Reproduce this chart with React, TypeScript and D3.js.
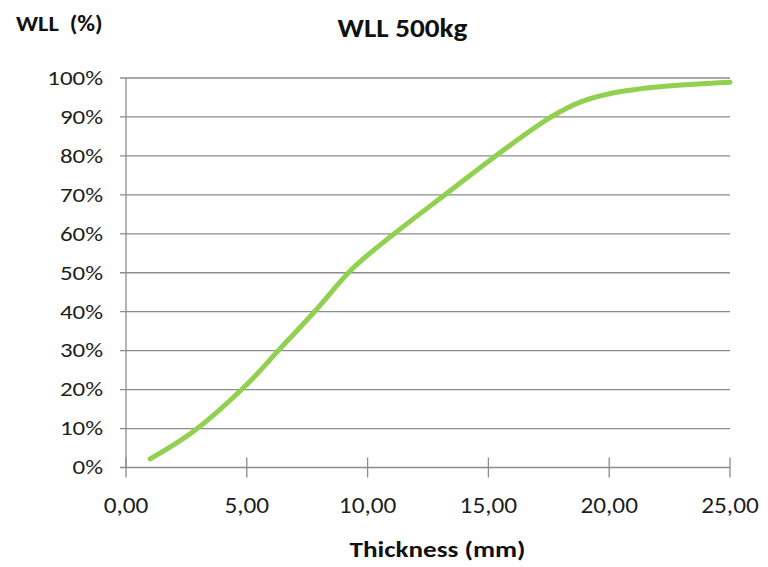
import React from "react";
import * as d3 from "d3";

const thickness = [1, 2.8, 5, 6.3, 7.8, 9.4, 11.1, 13.2, 15.3, 17.6, 18.8, 20.2, 22.2, 25];
const wllPercent = [2.2, 9.3, 21.3, 30, 40, 51.2, 60, 70, 80, 90, 93.8, 96.2, 97.8, 98.9];
const xTicks = [0, 5, 10, 15, 20, 25];
const yTicks = [0, 10, 20, 30, 40, 50, 60, 70, 80, 90, 100];

const W = 768;
const H = 567;
const FONT = "Carlito, Lato, 'Open Sans', sans-serif";

function SText(props: {
  x: number;
  y: number;
  sx: number;
  size: number;
  anchor?: string;
  bold?: boolean;
  dy?: string;
  children: React.ReactNode;
}) {
  const { x, y, sx, size, anchor = "start", bold, dy, children } = props;
  return (
    <g transform={`translate(${x},${y}) scale(${sx},1)`}>
      <text
        x={0}
        y={0}
        dy={dy}
        textAnchor={anchor}
        fontFamily={FONT}
        fontWeight={bold ? "bold" : "normal"}
        fontSize={size}
        fill={bold ? "#111" : "#1e1e1e"}
        style={{ whiteSpace: "pre" }}
      >
        {children}
      </text>
    </g>
  );
}

export default function App() {
  const x = d3.scaleLinear().domain([0, 25]).range([126, 730]);
  const y = d3.scaleLinear().domain([0, 100]).range([467.5, 78]);
  const data = thickness.map((t, i) => [t, wllPercent[i]] as [number, number]);
  const line = d3
    .line<[number, number]>()
    .x((d) => x(d[0]))
    .y((d) => y(d[1]))
    .curve(d3.curveCatmullRom.alpha(0.5));
  const fmtX = (v: number) => v.toFixed(2).replace(".", ",");
  const grid = "#8c8c8c";
  return (
    <svg
      width={W}
      height={H}
      style={{ position: "absolute", left: 0, top: 0, background: "#fff" }}
    >
      <SText x={16} y={31} sx={1.06} size={23} bold>
        {"WLL  (%)"}
      </SText>
      <SText x={402.5} y={37} sx={1.08} size={27} bold anchor="middle">
        WLL 500kg
      </SText>
      {yTicks.map((t) => (
        <g key={t}>
          <line x1={120} x2={730} y1={y(t)} y2={y(t)} stroke={grid} strokeWidth={1.3} />
          <SText x={103} y={y(t) + 6.8} sx={1.28} size={19.5} anchor="end">
            {`${t}%`}
          </SText>
        </g>
      ))}
      <line x1={x(0)} x2={x(0)} y1={y(100)} y2={y(0)} stroke={grid} strokeWidth={1.3} />
      {xTicks.map((t) => (
        <g key={t}>
          <line x1={x(t)} x2={x(t)} y1={y(0) - 10} y2={y(0) + 10} stroke={grid} strokeWidth={1.3} />
          <SText x={x(t)} y={513} sx={1.1} size={23} anchor="middle">
            {fmtX(t)}
          </SText>
        </g>
      ))}
      <path
        d={line(data) || ""}
        fill="none"
        stroke="#92D050"
        strokeWidth={5}
        strokeLinecap="round"
        strokeLinejoin="round"
      />
      <SText x={437.5} y={556.5} sx={1.18} size={23} bold anchor="middle">
        Thickness (mm)
      </SText>
    </svg>
  );
}
